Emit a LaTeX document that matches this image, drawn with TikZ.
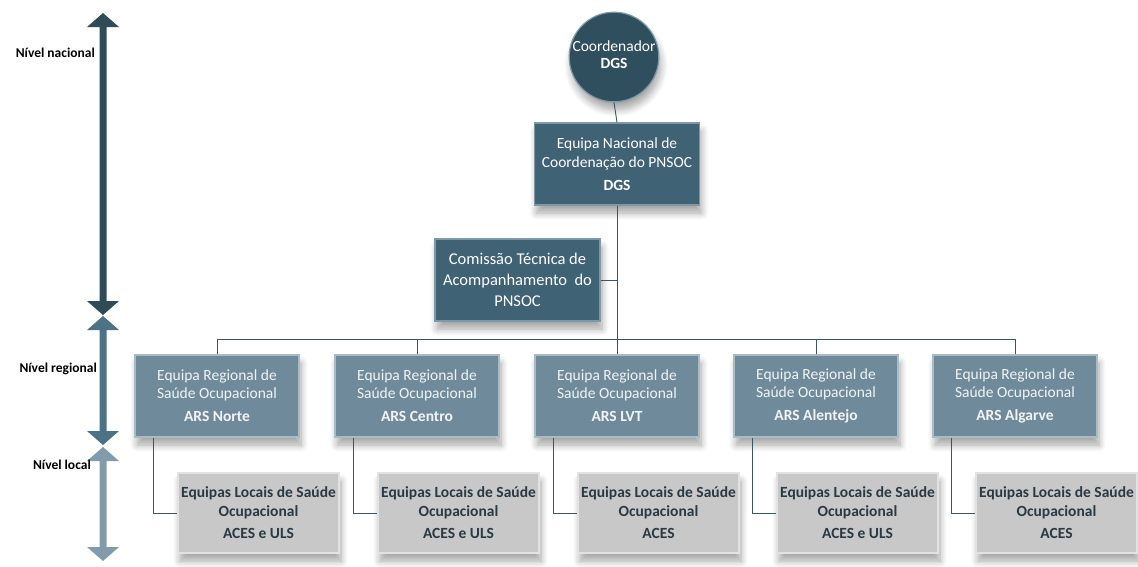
\documentclass[tikz,border=0pt]{standalone}
\usepackage{fontspec}
\setmainfont{Carlito}
\usetikzlibrary{shadows,shadows.blur}
\definecolor{arrN}{HTML}{2F4B58}
\definecolor{arrR}{HTML}{4D7286}
\definecolor{arrL}{HTML}{819BAA}
\definecolor{natfill}{HTML}{3F6275}
\definecolor{natedge}{HTML}{7E98A6}
\definecolor{circfill}{HTML}{2F4F5E}
\definecolor{regfill}{HTML}{6F8B9B}
\definecolor{regedge}{HTML}{A9BCC6}
\definecolor{locfill}{HTML}{C8C8C8}
\definecolor{locedge}{HTML}{E2E2E2}
\definecolor{loctext}{HTML}{2B3A42}
\definecolor{linec}{HTML}{3A5563}
\newcommand{\dblarrow}[3]{%
  \fill[#1] (103,#2) -- (119,#2+14) -- (106.5,#2+14) -- (106.5,#3-14) -- (119,#3-14)
   -- (103,#3) -- (87,#3-14) -- (99.5,#3-14) -- (99.5,#2+14) -- (87,#2+14) -- cycle;}
\tikzset{
  shad/.style={blur shadow={shadow xshift=2pt, shadow yshift=-8pt, shadow opacity=35, shadow blur steps=8, shadow blur radius=7pt}},
  natbox/.style={shad, draw=natedge, line width=1.2pt, fill=natfill, minimum width=165pt, minimum height=82pt,
    align=center, text=white, font=\fontsize{15.5}{19}\selectfont, inner sep=0pt},
  regbox/.style={shad, draw=regedge, line width=1.2pt, fill=regfill, minimum width=164pt, minimum height=82pt,
    align=center, text=white!90!regfill, font=\fontsize{15.5}{18}\selectfont, inner sep=0pt},
  locbox/.style={shad, draw=locedge, line width=1.2pt, fill=locfill, minimum width=161pt, minimum height=80pt,
    align=center, text=loctext, font=\bfseries\fontsize{15.5}{19}\selectfont, inner sep=0pt},
  conn/.style={draw=linec, line width=0.9pt},
  lvl/.style={anchor=east, font=\bfseries\fontsize{13.5}{14}\selectfont, text=black, inner sep=0pt}
}
\begin{document}
\begin{tikzpicture}[x=1pt,y=-1pt]
\useasboundingbox (0,0) rectangle (1138,566);
% level arrows
\dblarrow{arrN}{13}{315}
\dblarrow{arrR}{316}{445}
\dblarrow{arrL}{447}{561}
\node[lvl] (lvN) at (95,53) {Nível nacional};
\node[lvl] (lvR) at (97,369) {Nível regional};
\node[lvl] (lvL) at (91,465) {Nível local};

% nodes
\node[circle, shad, draw=natedge, line width=1.2pt, fill=circfill, minimum size=86pt, inner sep=0pt,
  text=white, align=center, font=\fontsize{15.5}{17}\selectfont] (coord) at (614,57)
  {\raisebox{-5pt}{\begin{tabular}{@{}c@{}}Coordenador\\\textbf{DGS}\end{tabular}}};
\node[natbox] (nat) at (617,164) {Equipa Nacional de\\Coordenação do PNSOC\\[4pt]\textbf{DGS}};
\node[natbox, font=\fontsize{16.5}{21}\selectfont] (com) at (517.5,280) {Comissão Técnica de\\Acompanhamento\ \ do\\PNSOC};

\foreach \i/\x/\nm/\lc in {1/217/Norte/ACES e ULS, 2/417/Centro/ACES e ULS, 3/617/LVT/ACES, 4/816/Alentejo/ACES e ULS, 5/1015/Algarve/ACES}{
  \node[regbox] (r\i) at (\x,396) {Equipa Regional de\\Saúde Ocupacional\\[5pt]\textbf{ARS \nm}};
  \node[locbox] (l\i) at (\x+41.5,513) {Equipas Locais de Saúde\\Ocupacional\\[3pt]\lc};
}

% connectors
\coordinate (bus) at (617,339);
\draw[conn] (coord.south) -- (nat.north);
\draw[conn] (nat.south) -- (r3.north);
\draw[conn] (com.east) -- (com.east -| nat.south);
\draw[conn] (r1.north) -- (r1.north |- bus) -- (r5.north |- bus) -- (r5.north);
\draw[conn] (r2.north) -- (r2.north |- bus);
\draw[conn] (r4.north) -- (r4.north |- bus);
\foreach \i in {1,...,5}{
  \draw[conn] ([xshift=-64pt]r\i.south) |- (l\i.west);
}
\end{tikzpicture}
\end{document}
